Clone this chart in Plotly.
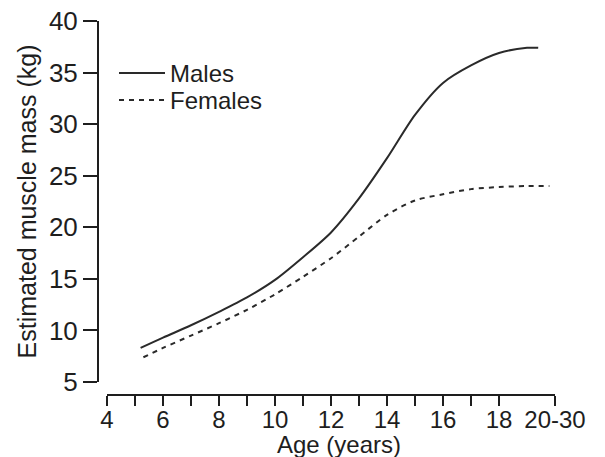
import plotly.graph_objects as go

# Data
male_age = [5.2, 6, 7, 8, 9, 10, 11, 12, 13, 14, 15, 16, 17, 18, 19, 19.4]
male_mass = [8.3, 9.3, 10.5, 11.8, 13.2, 14.9, 17.1, 19.5, 22.8, 26.7, 30.9, 34.0, 35.7, 36.9, 37.4, 37.4]

female_age = [5.3, 6, 7, 8, 9, 10, 11, 12, 13, 14, 15, 16, 17, 18, 19, 19.8]
female_mass = [7.4, 8.3, 9.5, 10.7, 12.0, 13.5, 15.2, 17.0, 19.1, 21.2, 22.6, 23.2, 23.7, 23.9, 24.0, 24.0]

x_tickvals = [4, 6, 8, 10, 12, 14, 16, 18, 20]
x_ticktext = ["4", "6", "8", "10", "12", "14", "16", "18", "20-30"]
x_minor_ticks = [5, 7, 9, 11, 13, 15, 17]
y_tickvals = [5, 10, 15, 20, 25, 30, 35, 40]
x_title = "Age (years)"
y_title = "Estimated muscle mass (kg)"

FONT = "Liberation Sans, Arial, Helvetica, sans-serif"
FS = 26
INK = "#1e1e1e"
W, H = 605, 457
ml, mr, mt, mb = 98, 50, 21, 62
pw = W - ml - mr
ph = H - mt - mb

fig = go.Figure()
fig.add_trace(go.Scatter(
    x=male_age, y=male_mass, mode="lines", name="Males",
    line=dict(color="#2a2a2a", width=2, shape="spline", smoothing=0.8),
    legend="legend", showlegend=True,
))
fig.add_trace(go.Scatter(
    x=female_age, y=female_mass, mode="lines", name="Females",
    line=dict(color="#2a2a2a", width=2, dash="5px,5px", shape="spline", smoothing=0.8),
    legend="legend2", showlegend=True,
))

leg_common = dict(
    font=dict(family=FONT, size=24, color=INK),
    bgcolor="rgba(0,0,0,0)", borderwidth=0,
    xanchor="left", yanchor="middle", itemwidth=46,
    itemclick=False, itemdoubleclick=False,
)

fig.update_layout(
    width=W, height=H,
    showlegend=True,
    margin=dict(l=ml, r=mr, t=mt, b=mb, pad=0, autoexpand=False),
    paper_bgcolor="white", plot_bgcolor="white",
    font=dict(family=FONT, size=FS, color=INK),
    legend=dict(x=(114 - ml) / pw, y=(mt + ph - 73.5) / ph, **leg_common),
    legend2=dict(x=(114 - ml) / pw, y=(mt + ph - 100.5) / ph, **leg_common),
    xaxis=dict(
        domain=[9 / pw, 1], range=[4, 20], anchor="free", position=0,
        automargin=False,
        tickmode="array", tickvals=x_tickvals, ticktext=x_ticktext,
        ticks="outside", ticklen=10, tickwidth=2, tickcolor=INK,
        ticklabelstandoff=-7,
        minor=dict(tickmode="array", tickvals=x_minor_ticks, ticks="outside",
                   ticklen=10, tickwidth=2, tickcolor=INK, showgrid=False),
        showline=True, linewidth=2, linecolor=INK,
        showgrid=False, zeroline=False,
        tickfont=dict(family=FONT, size=24, color=INK),
    ),
    yaxis=dict(
        domain=[13 / ph, 1], range=[5, 40], anchor="free", position=0,
        automargin=False,
        tickmode="array", tickvals=y_tickvals,
        ticks="outside", ticklen=14, tickwidth=2, tickcolor=INK,
        showline=True, linewidth=2, linecolor=INK,
        showgrid=False, zeroline=False,
        tickfont=dict(family=FONT, size=FS, color=INK),
        title=dict(text=y_title, font=dict(family=FONT, size=25, color=INK), standoff=4),
    ),
    annotations=[dict(
        text=x_title, xref="paper", yref="paper",
        x=(339 - ml) / pw, y=(mt + ph - 444.5) / ph,
        xanchor="center", yanchor="middle", showarrow=False,
        font=dict(family=FONT, size=24, color=INK),
    )],
)

fig.write_html("out.html")
